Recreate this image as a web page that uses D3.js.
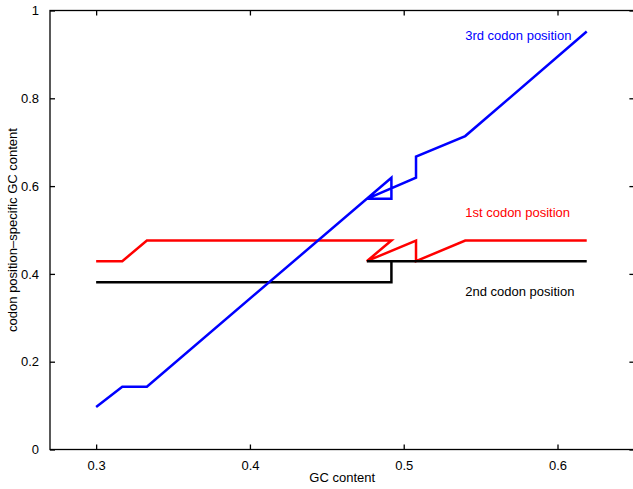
<!DOCTYPE html>
<meta charset="utf-8">
<style>
body { margin: 0; background: #fff; }
svg { display: block; overflow: hidden; }
text { font-family: "Liberation Sans", Arial, sans-serif; font-size: 13px; fill: #000; }
.axis path, .axis line { stroke: #000; stroke-width: 1.3; fill: none; }
.line { fill: none; stroke-width: 2.5; stroke-linejoin: miter; }
</style>
<body>
<script src="https://cdn.jsdelivr.net/npm/d3@7"></script>
<script>

// GC content (shared x for every series)
var gc = [0.3, 0.317, 0.333, 0.492, 0.492, 0.476, 0.508, 0.508, 0.540, 0.619];

// codon position-specific GC content
var pos1 = [0.429, 0.429, 0.476, 0.476, 0.476, 0.429, 0.476, 0.429, 0.476, 0.476];
var pos2 = [0.381, 0.381, 0.381, 0.381, 0.429, 0.429, 0.429, 0.429, 0.429, 0.429];
var pos3 = [0.097, 0.143, 0.143, 0.619, 0.571, 0.571, 0.619, 0.667, 0.714, 0.952];

var xTicks = [0.3, 0.4, 0.5, 0.6];
var yTicks = [0, 0.2, 0.4, 0.6, 0.8, 1];

// label text, colour and where it sits (data units)
var labels = [
  {text: "3rd codon position", color: "#0000ff", x: 0.54, y: 0.943},
  {text: "1st codon position", color: "#ff0000", x: 0.54, y: 0.539},
  {text: "2nd codon position", color: "#000000", x: 0.54, y: 0.361}
];

var W = 633, H = 489;
var pLeft = 50, pTop = 10.5, pRight = 634.4, pBottom = 449.5;

var svg = d3.select("body").append("svg")
    .attr("width", W)
    .attr("height", H);

var x = d3.scaleLinear().domain([0.27, 0.65]).range([pLeft, pRight]);
var y = d3.scaleLinear().domain([0, 1]).range([pBottom, pTop]);

// box
svg.append("rect")
    .attr("x", pLeft).attr("y", pTop)
    .attr("width", pRight - pLeft).attr("height", pBottom - pTop)
    .attr("fill", "none").attr("stroke", "#000").attr("stroke-width", 1.3);

// bottom axis, ticks pointing inward
var xb = svg.append("g")
    .attr("class", "axis")
    .attr("transform", "translate(0," + pBottom + ")")
    .call(d3.axisBottom(x).tickValues(xTicks).tickSizeInner(-5).tickSizeOuter(0)
      .tickPadding(11).tickFormat(d3.format("")));
xb.select(".domain").remove();

var xt = svg.append("g")
    .attr("class", "axis")
    .attr("transform", "translate(0," + pTop + ")")
    .call(d3.axisTop(x).tickValues(xTicks).tickSizeInner(-5).tickSizeOuter(0).tickFormat(""));
xt.select(".domain").remove();

var yl = svg.append("g")
    .attr("class", "axis")
    .attr("transform", "translate(" + pLeft + ",0)")
    .call(d3.axisLeft(y).tickValues(yTicks).tickSizeInner(-5).tickSizeOuter(0)
      .tickPadding(11).tickFormat(d3.format("")));
yl.select(".domain").remove();

var yr = svg.append("g")
    .attr("class", "axis")
    .attr("transform", "translate(" + pRight + ",0)")
    .call(d3.axisRight(y).tickValues(yTicks).tickSizeInner(-5).tickSizeOuter(0).tickFormat(""));
yr.select(".domain").remove();

svg.selectAll(".axis text").attr("font-size", 13).attr("font-family", "Liberation Sans, Arial, sans-serif");

// lines
var line = d3.line()
    .x(function(d) { return x(d[0]); })
    .y(function(d) { return y(d[1]); });

function pairs(ys) { return gc.map(function(g, i) { return [g, ys[i]]; }); }

svg.append("path").attr("class", "line").attr("stroke", "#ff0000").attr("d", line(pairs(pos1)));
svg.append("path").attr("class", "line").attr("stroke", "#000000").attr("d", line(pairs(pos2)));
svg.append("path").attr("class", "line").attr("stroke", "#0000ff").attr("d", line(pairs(pos3)));

// series labels
svg.selectAll(".lab")
    .data(labels)
  .enter().append("text")
    .attr("class", "lab")
    .attr("x", function(d) { return x(d.x); })
    .attr("y", function(d) { return y(d.y); })
    .attr("dy", "0.35em")
    .style("fill", function(d) { return d.color; })
    .text(function(d) { return d.text; });

// axis titles
svg.append("text")
    .attr("x", (pLeft + pRight) / 2)
    .attr("y", 482)
    .style("text-anchor", "middle")
    .text("GC content");

svg.append("text")
    .attr("transform", "translate(16.5," + ((pTop + pBottom) / 2) + ") rotate(-90)")
    .style("text-anchor", "middle")
    .text("codon position\u2013specific GC content");

</script>
</body>
